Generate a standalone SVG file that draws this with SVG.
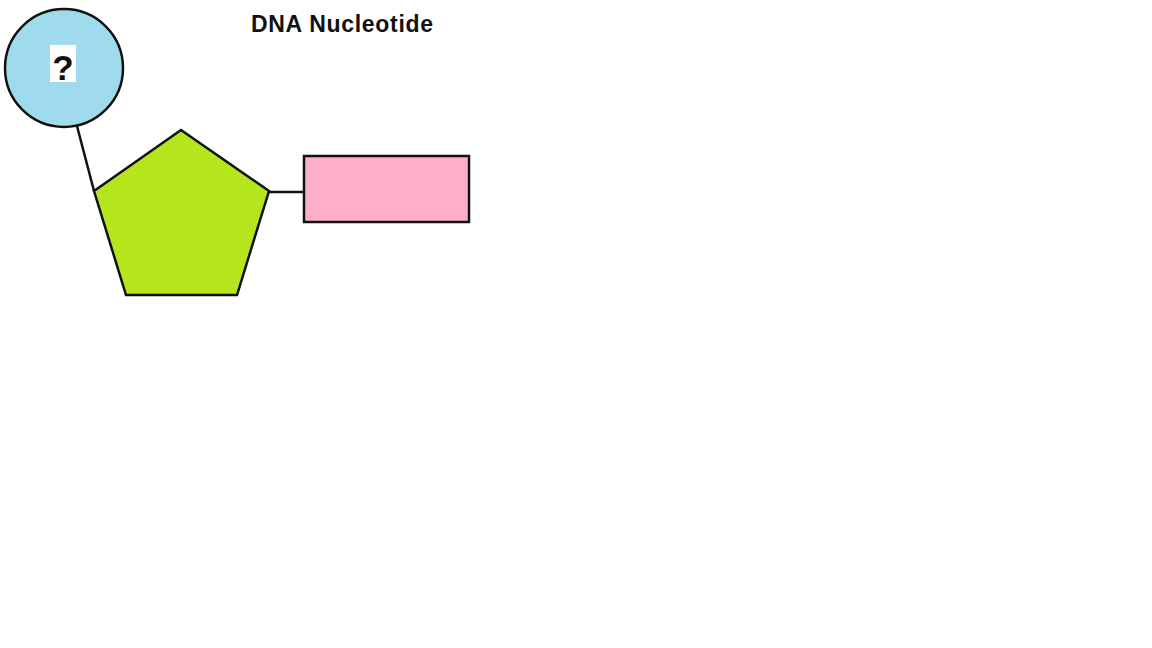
<svg xmlns="http://www.w3.org/2000/svg" width="1152" height="648" viewBox="0 0 1152 648">
<style>
.s{stroke:#111;stroke-width:2.5}
.t{font-family:"Liberation Sans",Arial,sans-serif;font-weight:bold;fill:#111}
</style>
<rect width="1152" height="648" fill="#fff"/>
<g id="connectors">
<line class="s" x1="77" y1="126" x2="94" y2="191"/>
<line class="s" x1="269" y1="192" x2="304" y2="192"/>
</g>
<g id="title"><text class="t" x="251" y="32" font-size="23" letter-spacing="0.7">DNA Nucleotide</text></g>
<g id="phosphate">
<circle class="s" cx="64" cy="68" r="59" fill="#a0dbed"/>
<rect x="50" y="45" width="26" height="37" fill="#fff"/>
<text class="t" x="63" y="80" font-size="35" text-anchor="middle">?</text>
</g>
<g id="sugar"><polygon class="s" points="181,130 269,191 237,295 126,295 94,191" fill="#b5e61d" stroke-linejoin="miter"/></g>
<g id="base"><rect class="s" x="304" y="156" width="165" height="66" fill="#ffaec9"/></g>
</svg>
